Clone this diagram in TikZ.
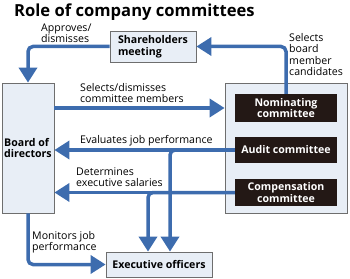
\documentclass[tikz,border=0pt]{standalone}
\usepackage{fontspec}
\setmainfont{Open Sans}
\usepackage{tikz}
\usetikzlibrary{arrows.meta,positioning}
\definecolor{roleblue}{HTML}{3D6CAE}
\definecolor{rolepale}{HTML}{E8EEF6}
\definecolor{rolegray}{HTML}{6E6E6E}
\definecolor{roledark}{HTML}{231815}
\tikzset{
  pale/.style={rectangle,draw=rolegray,fill=rolepale,line width=0.8pt,align=left,inner sep=0pt,font=\fontsize{10.6}{11.5}\selectfont\bfseries},
  dark/.style={rectangle,fill=roledark,text=white,align=center,inner sep=0pt,minimum width=102pt,font=\fontsize{10.6}{11.5}\selectfont\bfseries},
  flow/.style={-{Triangle[length=15pt,width=18pt]},line width=3.5pt,draw=roleblue,rounded corners=5pt},
  note/.style={align=left,inner sep=0pt,anchor=west,font=\fontsize{10.6}{11.3}\selectfont}
}

\begin{document}
\begin{tikzpicture}[x=1pt,y=-1pt]
\useasboundingbox (0,0) rectangle (350,278);
\node[anchor=west,inner sep=0pt,font=\fontsize{16.6}{18}\selectfont\bfseries] (title) at (14,12) {Role of company committees};
% boxes
\node[pale,minimum width=86pt,minimum height=31pt] (share) at (153,46.5) {Shareholders\\meeting};
\node[pale,minimum width=52pt,minimum height=130pt] (board) at (28,148) {Board of\\directors};
\node[pale,minimum width=122pt,minimum height=130pt] (comm) at (286,148) {};
\node[dark,minimum height=28pt] (nom) at (286,108) {Nominating\\committee};
\node[dark,minimum height=26pt] (aud) at (286,150) {Audit committee};
\node[dark,minimum height=27pt] (comp) at (286,192.5) {Compensation\\committee};
\node[pale,minimum width=106pt,minimum height=25pt] (exec) at (159,264.5) {Executive officers};
% arrows
\draw[flow] (nom.north) |- (share.east);
\draw[flow] (share.west) -| (board.north);
\draw[flow] (board.east |- nom) -- (comm.west |- nom);
\draw[flow] (aud.west) -- (board.east |- aud);
\draw[flow] (comp.west) -- (board.east |- comp);
\draw[flow] (aud.west) -| ([xshift=11pt]exec.north);
\draw[flow] (comp.west) -| ([xshift=-11pt]exec.north);
\draw[flow] (board.south) |- (exec.west);
% labels
\node[note] (approve) at (41,33) {Approves/\\dismisses};
\node[note] (select) at (80,93) {Selects/dismisses\\committee members};
\node[note] (cand) at (289,54.5) {Selects\\board\\member\\candidates};
\node[note] (eval) at (80,141) {Evaluates job performance};
\node[note] (salary) at (76,177) {Determines\\executive salaries};
\node[note] (monitor) at (32,242) {Monitors job\\performance};
\end{tikzpicture}
\end{document}
